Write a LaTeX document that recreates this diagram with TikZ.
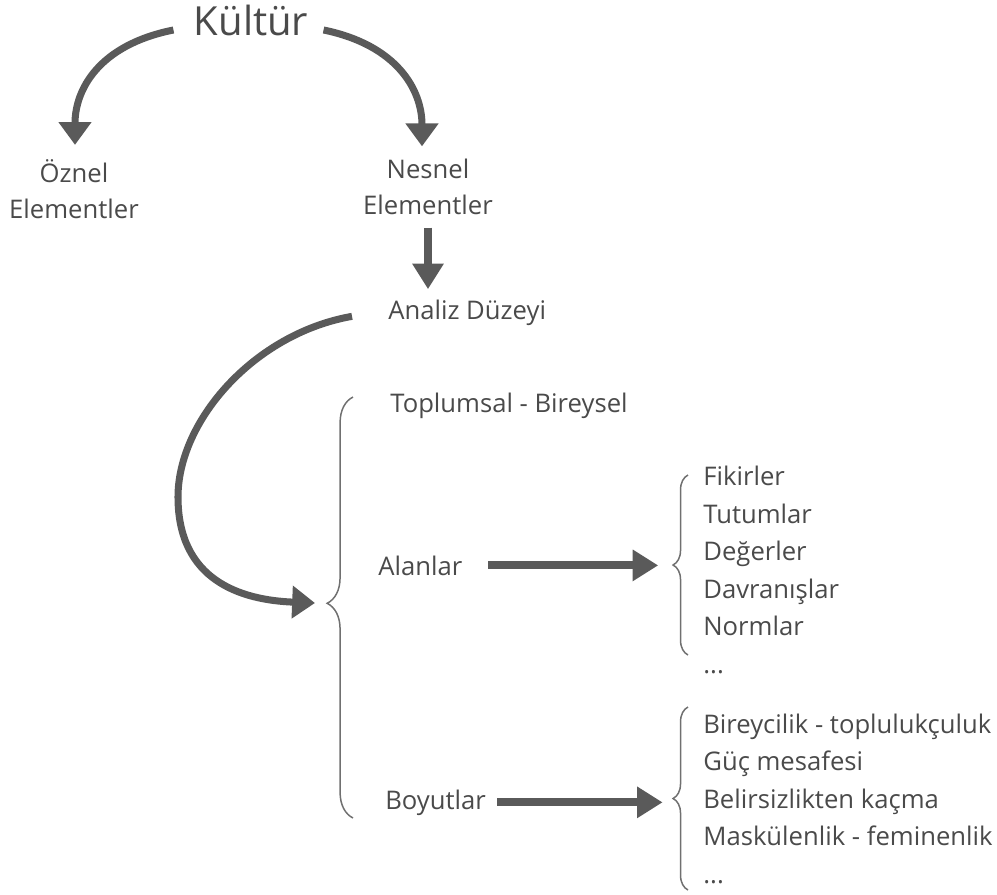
\documentclass[tikz,border=0pt]{standalone}
\usepackage{fontspec}
\setmainfont{Open Sans}
\usetikzlibrary{arrows.meta,decorations.pathreplacing}
\definecolor{txtgray}{HTML}{4A4A4A}
\definecolor{arrgray}{HTML}{5A5A5A}
\definecolor{brcgray}{HTML}{707070}
\tikzset{
  lbl/.style={text=txtgray,inner sep=0pt,font=\fontsize{14.6}{20.4}\selectfont},
  lst/.style={lbl,align=left,anchor=base west,font=\fontsize{14.6}{21.3}\selectfont},
  arr/.style={draw=arrgray,line width=4.5pt,-{Triangle[length=14.5pt,width=17pt]}},
  arc/.style={draw=arrgray,line width=4pt,-{Triangle[length=13pt,width=18pt]}},
  brc/.style={draw=brcgray,line width=0.85pt,decorate,decoration={brace,amplitude=#1}},
}
\begin{document}
\begin{tikzpicture}[x=0.02cm,y=-0.02cm]
  \useasboundingbox (0,0) rectangle (997,894);
  \node[lbl,anchor=base,font=\fontsize{22.8}{26}\selectfont] (kul) at (251,35) {Kültür};
  \node[lbl,align=center,anchor=base] (oz) at (74,218) {Öznel\\Elementler};
  \node[lbl,align=center,anchor=base] (ns) at (428,214) {Nesnel\\Elementler};
  \node[lbl,anchor=base west] (an) at (388,319) {Analiz Düzeyi};
  \node[lbl,anchor=base west] (tb) at (390,412) {Toplumsal - Bireysel};
  \node[lbl,anchor=base west] (al) at (378,575) {Alanlar};
  \node[lbl,anchor=base west] (bo) at (385,809) {Boyutlar};
  \node[lst] (al1) at (703,673) {Fikirler\\Tutumlar\\Değerler\\Davranışlar\\Normlar\\...};
  \node[lst] (bo1) at (703,883) {Bireycilik - toplulukçuluk\\Güç mesafesi\\Belirsizlikten kaçma\\Maskülenlik - feminenlik\\...};
  \coordinate (bt) at (327,603);
  % braces
  \draw[brc=14.7pt,decoration={aspect=0.51}] (353,818) -- (353,397);
  \draw[brc=8.5pt] (688,655) -- (688,475);
  \draw[brc=8.5pt] (688,890) -- (688,707);
  % arrows
  \draw[arc] ([shift={(-20,10)}]kul.west) .. controls +(-75,15) and +(0,-55) .. ([shift={(1,-14)}]oz.north);
  \draw[arc] ([shift={(15,10)}]kul.east) .. controls +(73,15) and +(0,-57) .. ([shift={(-6,-12)}]ns.north);
  \draw[arr,shorten <=7.4pt,shorten >=5.7pt] (ns.south) -- (an.north -| ns.south);
  \draw[arc] ([shift={(-36,4)}]an.west) .. controls +(-97,17) and +(0,-77) .. (178,497)
    .. controls +(0,83) and +(-75,-3) .. ([shift={(-12,0)}]bt);
  \draw[arr,shorten <=14.7pt,shorten >=25.5pt] (al.east) -- (al.east -| al1.west);
  \draw[arr,shorten <=6.2pt,shorten >=23pt] (bo.east) -- (bo.east -| bo1.west);
\end{tikzpicture}
\end{document}
